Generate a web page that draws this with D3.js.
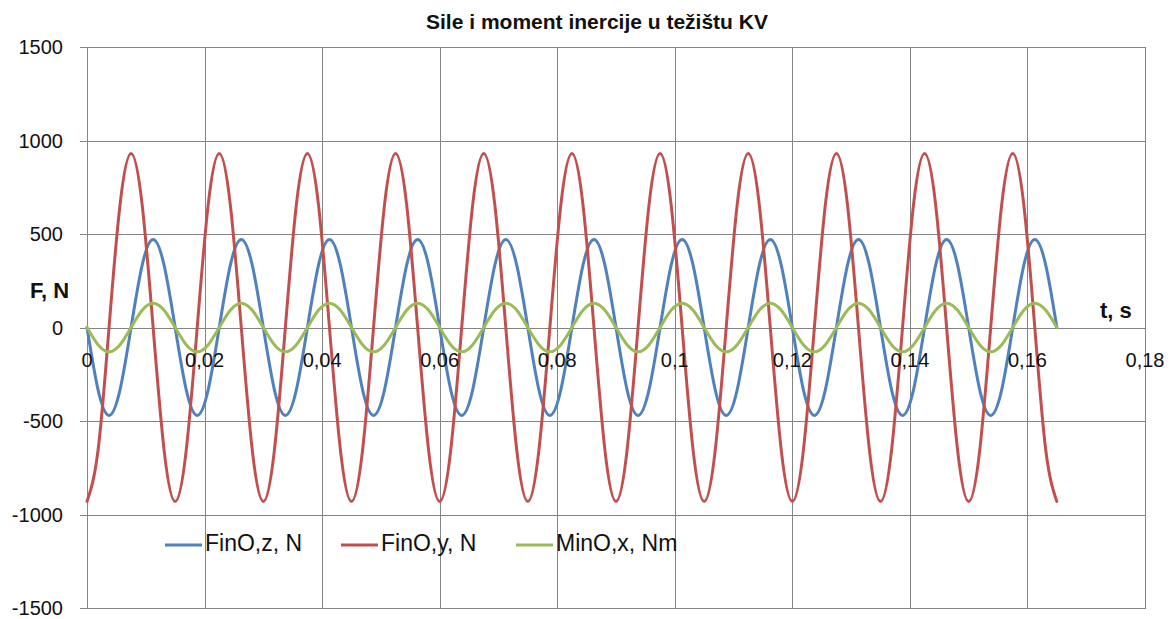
<!DOCTYPE html>
<html>
<head>
<meta charset="utf-8">
<script src="https://cdn.jsdelivr.net/npm/d3@7"></script>
<style>
  html, body { margin: 0; padding: 0; background: #fff; }
  svg { display: block; }
  text { font-family: "Liberation Sans", Arial, sans-serif; fill: #111; }
</style>
</head>
<body>
<svg id="chart" width="1176" height="619"></svg>
<script>
// ---- data ----
const title = "Sile i moment inercije u težištu KV";
const yLabel = "F, N";
const xLabel = "t, s";
const seriesNames = ["FinO,z, N", "FinO,y, N", "MinO,x, Nm"];
const seriesColors = ["#4F81BD", "#C0504D", "#9BBB59"];
const xTicks = [0, 0.02, 0.04, 0.06, 0.08, 0.1, 0.12, 0.14, 0.16, 0.18];
const xTickLabels = ["0", "0,02", "0,04", "0,06", "0,08", "0,1", "0,12", "0,14", "0,16", "0,18"];
const yTicks = [-1500, -1000, -500, 0, 500, 1000, 1500];
const yTickLabels = ["-1500", "-1000", "-500", "0", "500", "1000", "1500"];

const time = [0,0.001875,0.00375,0.005625,0.0075,0.009375,0.01125,0.013125,
0.015,0.016875,0.01875,0.020625,0.0225,0.024375,0.02625,0.028125,
0.03,0.031875,0.03375,0.035625,0.0375,0.039375,0.04125,0.043125,
0.045,0.046875,0.04875,0.050625,0.0525,0.054375,0.05625,0.058125,
0.06,0.061875,0.06375,0.065625,0.0675,0.069375,0.07125,0.073125,
0.075,0.076875,0.07875,0.080625,0.0825,0.084375,0.08625,0.088125,
0.09,0.091875,0.09375,0.095625,0.0975,0.099375,0.10125,0.103125,
0.105,0.106875,0.10875,0.110625,0.1125,0.114375,0.11625,0.118125,
0.12,0.121875,0.12375,0.125625,0.1275,0.129375,0.13125,0.133125,
0.135,0.136875,0.13875,0.140625,0.1425,0.144375,0.14625,0.148125,
0.15,0.151875,0.15375,0.155625,0.1575,0.159375,0.16125,0.163125,
0.165];

const finOz = [0,-332,-470,-332,0,332,470,332,
0,-332,-470,-332,0,332,470,332,
0,-332,-470,-332,0,332,470,332,
0,-332,-470,-332,0,332,470,332,
0,-332,-470,-332,0,332,470,332,
0,-332,-470,-332,0,332,470,332,
0,-332,-470,-332,0,332,470,332,
0,-332,-470,-332,0,332,470,332,
0,-332,-470,-332,0,332,470,332,
0,-332,-470,-332,0,332,470,332,
0,-332,-470,-332,0,332,470,332,
0];

const finOy = [-930,-658,0,658,930,658,0,-658,
-930,-658,0,658,930,658,0,-658,
-930,-658,0,658,930,658,0,-658,
-930,-658,0,658,930,658,0,-658,
-930,-658,0,658,930,658,0,-658,
-930,-658,0,658,930,658,0,-658,
-930,-658,0,658,930,658,0,-658,
-930,-658,0,658,930,658,0,-658,
-930,-658,0,658,930,658,0,-658,
-930,-658,0,658,930,658,0,-658,
-930,-658,0,658,930,658,0,-658,
-930];

const minOx = [0,-92,-130,-92,0,92,130,92,
0,-92,-130,-92,0,92,130,92,
0,-92,-130,-92,0,92,130,92,
0,-92,-130,-92,0,92,130,92,
0,-92,-130,-92,0,92,130,92,
0,-92,-130,-92,0,92,130,92,
0,-92,-130,-92,0,92,130,92,
0,-92,-130,-92,0,92,130,92,
0,-92,-130,-92,0,92,130,92,
0,-92,-130,-92,0,92,130,92,
0,-92,-130,-92,0,92,130,92,
0];

const seriesValues = [finOz, finOy, minOx];

(function draw() {
  const svg = d3.select("#chart");
  const pL = 87, pR = 1145, pT = 47, pB = 608;
  const x = d3.scaleLinear().domain([0, 0.18]).range([pL, pR]);
  const y = d3.scaleLinear().domain([-1500, 1500]).range([pB, pT]);
  const gridColor = "#848484";
  const snap = v => Math.round(v) + 0.5;

  const gH = svg.append("g");
  // horizontal gridlines (with left tick marks)
  yTicks.forEach(v => {
    gH.append("line")
      .attr("x1", pL - 7).attr("x2", pR + 0.5)
      .attr("y1", snap(y(v))).attr("y2", snap(y(v)))
      .attr("stroke", gridColor).attr("stroke-width", 1);
  });
  // vertical gridlines
  xTicks.forEach(v => {
    gH.append("line")
      .attr("x1", snap(x(v))).attr("x2", snap(x(v)))
      .attr("y1", pT).attr("y2", pB + 1)
      .attr("stroke", gridColor).attr("stroke-width", 1);
  });

  // y tick labels
  yTicks.forEach((v, i) => {
    svg.append("text")
      .attr("x", 63).attr("y", y(v))
      .attr("dy", "0.36em")
      .attr("text-anchor", "end")
      .style("font-size", "20px")
      .text(yTickLabels[i]);
  });

  // series
  const line = d3.line()
    .x((d, i) => x(time[i]))
    .y(d => y(d))
    .curve(d3.curveNatural);

  seriesValues.forEach((vals, si) => {
    svg.append("path")
      .datum(vals)
      .attr("d", line)
      .attr("fill", "none")
      .attr("stroke", seriesColors[si])
      .attr("stroke-width", 3)
      .attr("stroke-linejoin", "round")
      .attr("stroke-linecap", "round");
  });

  // x tick labels (drawn over the curves, as in the reference)
  xTicks.forEach((v, i) => {
    svg.append("text")
      .attr("x", x(v)).attr("y", 367)
      .attr("text-anchor", "middle")
      .style("font-size", "20px")
      .text(xTickLabels[i]);
  });

  // title
  svg.append("text")
    .attr("x", 597).attr("y", 29)
    .attr("text-anchor", "middle")
    .style("font-size", "21px").style("font-weight", "bold")
    .text(title);

  // axis titles
  svg.append("text")
    .attr("x", 30).attr("y", 298)
    .style("font-size", "22px").style("font-weight", "bold")
    .text(yLabel);
  svg.append("text")
    .attr("x", 1100).attr("y", 318)
    .style("font-size", "22px").style("font-weight", "bold")
    .text(xLabel);

  // legend
  const legendX = [165, 341, 516];
  const legendY = 545;
  seriesNames.forEach((name, i) => {
    const g = svg.append("g").attr("transform", `translate(${legendX[i]},${legendY})`);
    g.append("line")
      .attr("x1", 0).attr("x2", 37)
      .attr("y1", 0).attr("y2", 0)
      .attr("stroke", seriesColors[i]).attr("stroke-width", 3);
    g.append("text")
      .attr("x", 40).attr("y", 6)
      .style("font-size", "23px")
      .text(name);
  });
})();
</script>
</body>
</html>
